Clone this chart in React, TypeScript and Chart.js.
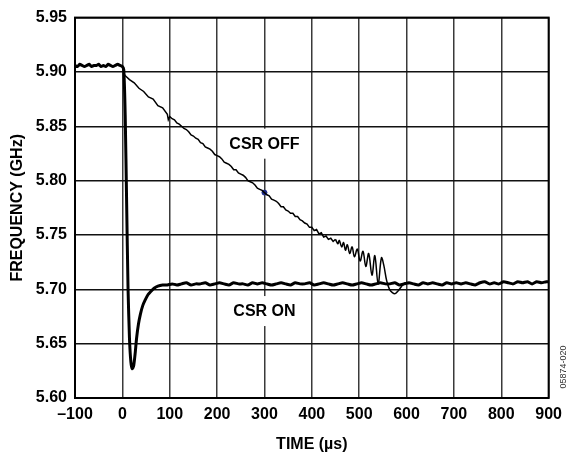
import React, { useEffect, useRef } from 'react';
import { Chart, registerables } from 'chart.js';

Chart.register(...registerables);

// ---- data (time in µs, frequency in GHz) ----
const preTimes = [-100, -95, -90, -85, -80, -75, -70, -65, -60, -55, -50, -45, -40, -35, -30, -25, -20, -15, -10, -5, 0];
const preFreq = [5.906, 5.905, 5.907, 5.906, 5.905, 5.906, 5.907, 5.905, 5.906, 5.906, 5.907, 5.905, 5.906, 5.905, 5.907, 5.906, 5.905, 5.906, 5.907, 5.906, 5.905];

// CSR OFF: slow linear-ish ramp
const offTimes = [3, 5, 15, 25, 35, 45, 55, 65, 75, 85, 95, 97,
  100, 105, 110, 115, 120, 125, 130, 135, 140, 145, 150, 155, 160, 165, 170, 175, 180, 185, 190, 195,
  200, 205, 210, 215, 220, 225, 230, 235, 240, 245, 250, 255, 260, 265, 270, 275, 280, 285, 290, 295,
  300, 305, 310, 315, 320, 325, 330, 335, 340, 345, 350, 355, 360, 365, 370, 375, 380, 385, 390, 395,
  400, 405, 410, 415, 420, 425, 430, 435, 440, 445, 450];
const offFreq = [5.900, 5.897, 5.893, 5.890, 5.885, 5.882, 5.877, 5.875, 5.869, 5.867, 5.861, 5.856,
  5.859, 5.857, 5.856, 5.853, 5.852, 5.850, 5.848, 5.847, 5.845, 5.842, 5.841, 5.839, 5.838, 5.835, 5.834, 5.831, 5.830, 5.829, 5.827, 5.824,
  5.823, 5.822, 5.820, 5.817, 5.816, 5.815, 5.813, 5.810, 5.810, 5.807, 5.806, 5.805, 5.803, 5.800, 5.799, 5.798, 5.796, 5.793, 5.792, 5.791,
  5.789, 5.787, 5.786, 5.783, 5.782, 5.781, 5.779, 5.776, 5.776, 5.773, 5.772, 5.770, 5.770, 5.767, 5.767, 5.764, 5.763, 5.761, 5.760, 5.757,
  5.757, 5.754, 5.755, 5.751, 5.752, 5.748, 5.749, 5.746, 5.747, 5.744, 5.746];

// CSR OFF: ringing tail before it settles
const tailTimes = [450, 455, 458, 463, 467, 471, 475, 480, 485, 490, 496, 502, 508, 514, 520, 527, 533, 540, 547, 552, 558, 564, 570, 576, 583, 590, 597, 605];
const tailFreq = [5.746, 5.742, 5.745, 5.739, 5.743, 5.736, 5.741, 5.733, 5.739, 5.730, 5.737, 5.726, 5.735, 5.721, 5.733, 5.713, 5.731, 5.705, 5.729, 5.722, 5.708, 5.700, 5.697, 5.696, 5.699, 5.703, 5.706, 5.705];

// CSR ON: fast dip and settle
const onTimes = [3, 6, 9, 12, 15, 18, 21, 24, 27, 30, 34, 38, 43, 48, 54, 60, 67, 75, 85, 95,
  105, 115, 125, 135, 145, 155, 165, 175, 185, 195, 205, 215, 225, 235, 245, 255, 265, 275, 285, 295,
  305, 315, 325, 335, 345, 355, 365, 375, 385, 395, 405, 415, 425, 435, 445, 455, 465, 475, 485, 495,
  505, 515, 525, 535, 545, 555, 565, 575, 585, 595, 605, 615, 625, 635, 645, 655, 665, 675, 685, 695,
  705, 715, 725, 735, 745, 755, 765, 775, 785, 795, 805, 815, 825, 835, 845, 855, 865, 875, 885, 895, 900];
const onFreq = [5.902, 5.860, 5.780, 5.700, 5.655, 5.633, 5.627, 5.630, 5.641, 5.655, 5.668, 5.677, 5.685, 5.690, 5.695, 5.698, 5.701, 5.703, 5.704, 5.704,
  5.705, 5.704, 5.705, 5.706, 5.704, 5.705, 5.705, 5.706, 5.704, 5.705, 5.706, 5.705, 5.704, 5.706, 5.705, 5.705, 5.704, 5.706, 5.705, 5.706,
  5.705, 5.704, 5.705, 5.706, 5.705, 5.704, 5.706, 5.705, 5.705, 5.706, 5.704, 5.705, 5.706, 5.705, 5.704, 5.705, 5.706, 5.705, 5.704, 5.705,
  5.706, 5.705, 5.704, 5.705, 5.706, 5.705, 5.705, 5.706, 5.704, 5.705, 5.706, 5.705, 5.704, 5.706, 5.705, 5.706, 5.705, 5.704, 5.706, 5.705,
  5.706, 5.705, 5.706, 5.705, 5.704, 5.706, 5.707, 5.705, 5.706, 5.705, 5.707, 5.706, 5.705, 5.707, 5.706, 5.707, 5.705, 5.707, 5.706, 5.707, 5.707];

const markerTime = [300];
const markerFreq = [5.789];

const labelTexts = ['CSR OFF', 'CSR ON'];
const labelTimes = [300, 300];
const labelFreqs = [5.834, 5.680];

const FONT = "'Liberation Sans', Arial, Helvetica, sans-serif";

const toPts = (t: number[], f: number[]) => t.map((x, i) => ({ x, y: f[i] }));

export default function App() {
  const ref = useRef<HTMLCanvasElement>(null);

  useEffect(() => {
    document.body.style.margin = '0';
    const decor = {
      id: 'decor',
      beforeDatasetsDraw(chart: any) {
        const { ctx, scales } = chart;
        ctx.save();
        ctx.font = `bold 16px ${FONT}`;
        ctx.textAlign = 'center';
        ctx.textBaseline = 'middle';
        labelTexts.forEach((txt, i) => {
          const x = scales.x.getPixelForValue(labelTimes[i]);
          const y = scales.y.getPixelForValue(labelFreqs[i]);
          const w = ctx.measureText(txt).width;
          ctx.fillStyle = '#fff';
          ctx.fillRect(x - w / 2 - 3, y - 15, w + 6, 30);
          ctx.fillStyle = '#000';
          ctx.fillText(txt, x, y + 1);
        });
        ctx.restore();
      },
      afterDatasetsDraw(chart: any) {
        const { ctx, chartArea } = chart;
        ctx.save();
        ctx.strokeStyle = '#000';
        ctx.lineWidth = 2;
        ctx.strokeRect(chartArea.left, chartArea.top, chartArea.right - chartArea.left, chartArea.bottom - chartArea.top);
        ctx.restore();
      },
      afterDraw(chart: any) {
        const { ctx } = chart;
        ctx.save();
        ctx.translate(564, 367);
        ctx.rotate(-Math.PI / 2);
        ctx.font = `9px ${FONT}`;
        ctx.fillStyle = '#333';
        ctx.textAlign = 'center';
        ctx.textBaseline = 'middle';
        ctx.fillText('05874-020', 0, 0);
        ctx.restore();
      },
    };

    const chart = new Chart(ref.current!, {
      type: 'line',
      data: {
        datasets: [
          {
            data: toPts([...preTimes, ...offTimes], [...preFreq, ...offFreq]),
            borderColor: '#000',
            borderWidth: 1.5,
            pointRadius: 0,
            tension: 0,
          },
          {
            data: toPts(tailTimes, tailFreq),
            borderColor: '#000',
            borderWidth: 1.5,
            pointRadius: 0,
            tension: 0.35,
          },
          {
            data: toPts([...preTimes, ...onTimes], [...preFreq, ...onFreq]),
            borderColor: '#000',
            borderWidth: 3,
            pointRadius: 0,
            tension: 0.2,
          },
          {
            data: toPts(markerTime, markerFreq),
            showLine: false,
            pointRadius: 2.5,
            pointBackgroundColor: '#1c2a8c',
            pointBorderColor: '#1c2a8c',
          },
        ],
      },
      options: {
        responsive: false,
        animation: false,
        devicePixelRatio: 1,
        layout: { padding: { top: 15, right: 14, left: 0, bottom: 0 } },
        plugins: { legend: { display: false }, tooltip: { enabled: false } },
        scales: {
          x: {
            type: 'linear',
            min: -100,
            max: 900,
            afterFit(s: any) { s.height = 56; },
            grid: { color: '#3a3a3a', lineWidth: 1.5, drawTicks: false },
            border: { display: false },
            ticks: {
              stepSize: 100,
              padding: 7,
              color: '#000',
              font: { family: FONT, size: 16, weight: 'bold' },
              callback: (v: any) => (Number(v) < 0 ? '\u2013' + Math.abs(Number(v)) : String(v)),
            },
            title: {
              display: true,
              text: 'TIME (\u00b5s)',
              color: '#000',
              font: { family: FONT, size: 16, weight: 'bold' },
              padding: { top: 1, bottom: 0 },
            },
          },
          y: {
            min: 5.6,
            max: 5.95,
            afterFit(s: any) { s.width = 75; },
            grid: { color: '#111', lineWidth: 1.5, drawTicks: false },
            border: { display: false },
            ticks: {
              stepSize: 0.05,
              padding: 8,
              color: '#000',
              font: { family: FONT, size: 16, weight: 'bold' },
              callback: (v: any) => Number(v).toFixed(2),
            },
            title: {
              display: true,
              text: 'FREQUENCY (GHz)',
              color: '#000',
              font: { family: FONT, size: 16, weight: 'bold' },
              padding: { top: 8, bottom: 0 },
            },
          },
        },
      },
      plugins: [decor],
    } as any);
    return () => chart.destroy();
  }, []);

  return <canvas ref={ref} width={569} height={454} style={{ display: 'block' }} />;
}
